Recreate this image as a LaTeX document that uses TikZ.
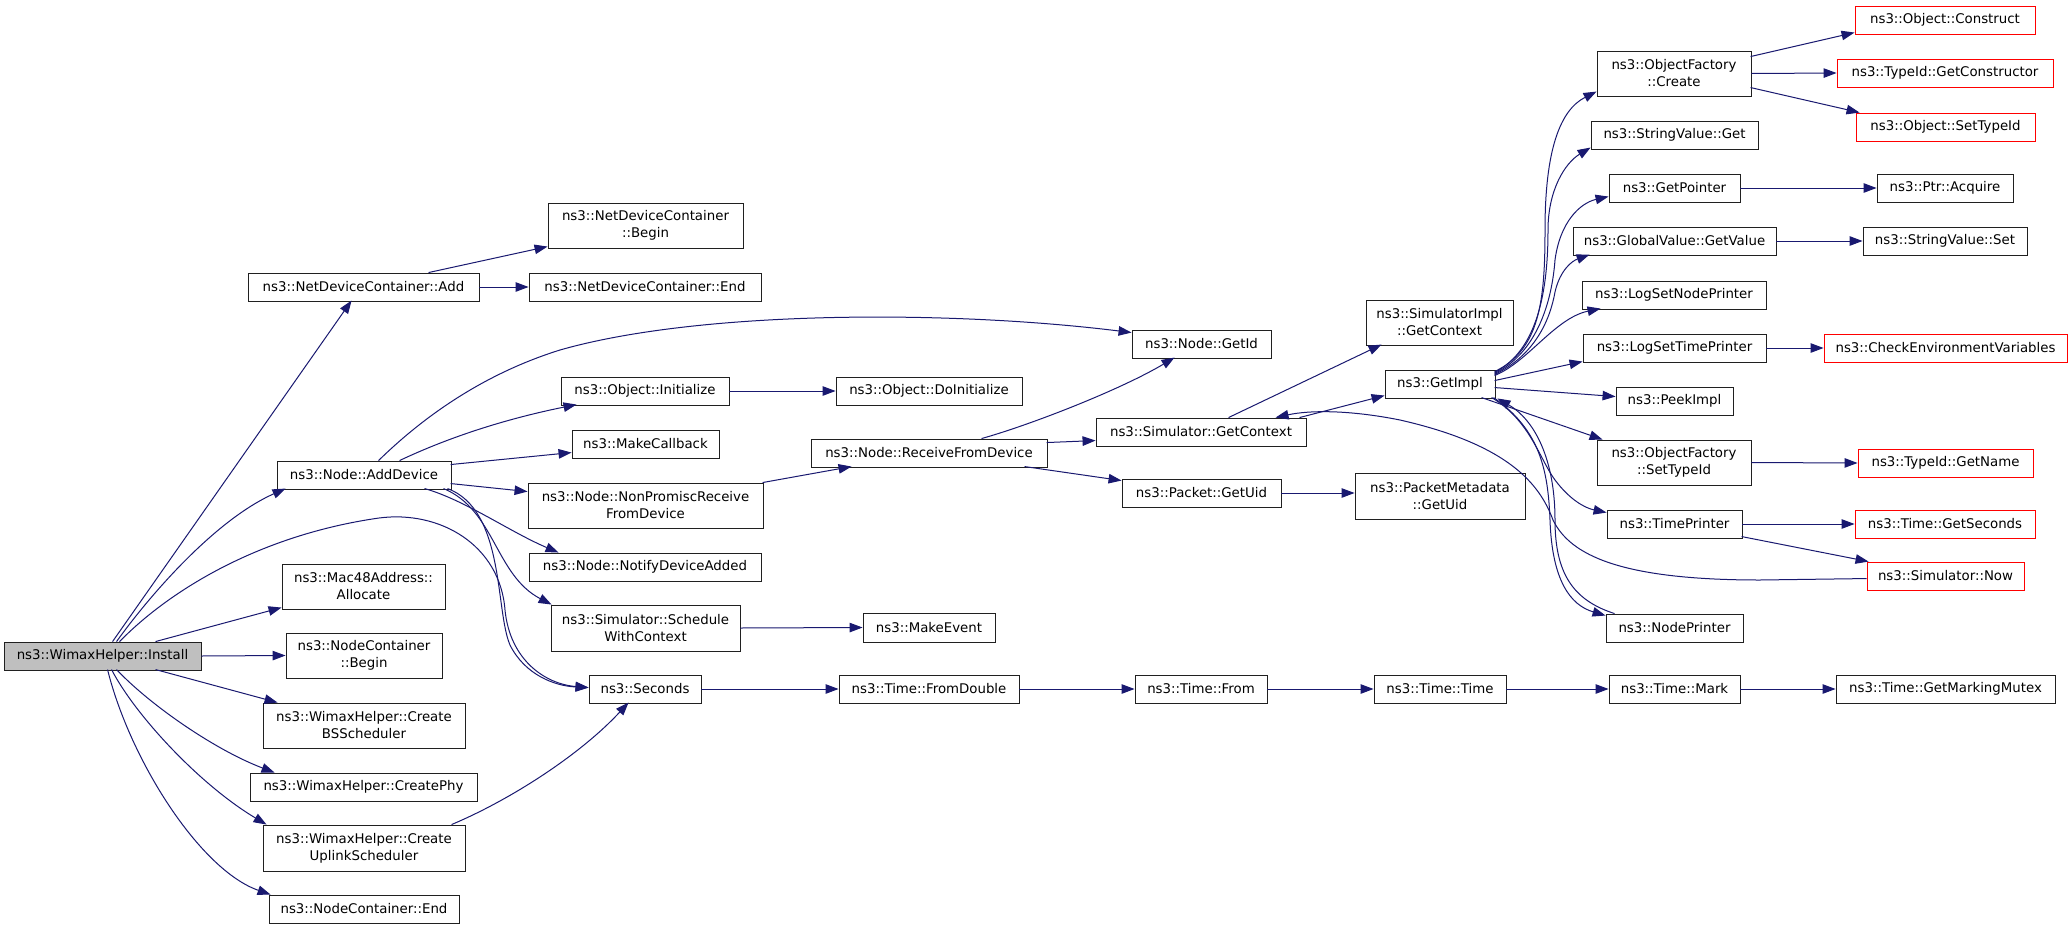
\documentclass[tikz,border=0pt]{standalone}
\usepackage{fontspec}
\setmainfont{DejaVu Sans}
\usetikzlibrary{arrows.meta,calc}
\definecolor{edgeblue}{HTML}{191970}
\definecolor{boxred}{HTML}{FF0000}
\definecolor{rootgrey}{HTML}{BFBFBF}
\definecolor{boxline}{HTML}{202020}
\tikzset{
 box/.style={draw=boxline, line width=0.9pt, fill=white, inner sep=0pt, align=center, font=\fontsize{13.33}{17}\selectfont},
 redbox/.style={draw=boxred},
 rootbox/.style={fill=rootgrey},
 e/.style={draw=edgeblue, line width=1pt, -{Triangle[length=13pt,width=9.5pt]}},
}
\newcommand\bx[7][]{\node[box,#1,minimum width={(#5-#3)*1pt},minimum height={(#6-#4)*1pt}] (#2) at ({(#3+#5)/2},{(#4+#6)/2}) {#7};}
\begin{document}
\begin{tikzpicture}[x=1pt,y=-1pt]
\useasboundingbox[fill=white] (0,0) rectangle (2072,929);
% column 1
\bx[rootbox]{install}{4}{642}{201}{670}{ns3::WimaxHelper::Install}
% column 2
\bx{ndcadd}{248}{273}{479}{301}{ns3::NetDeviceContainer::Add}
\bx{adddev}{277}{461}{451}{489}{ns3::Node::AddDevice}
\bx{mac48}{282}{564}{445}{609}{ns3::Mac48Address::\\Allocate}
\bx{ncbegin}{286}{633}{442}{678}{ns3::NodeContainer\\::Begin}
\bx{bssched}{263}{703}{465}{748}{ns3::WimaxHelper::Create\\BSScheduler}
\bx{phy}{250}{773}{477}{801}{ns3::WimaxHelper::CreatePhy}
\bx{uplink}{263}{825}{465}{871}{ns3::WimaxHelper::Create\\UplinkScheduler}
\bx{ncend}{269}{895}{459}{923}{ns3::NodeContainer::End}
% column 3
\bx{ndcbegin}{548}{203}{743}{248}{ns3::NetDeviceContainer\\::Begin}
\bx{ndcend}{529}{273}{761}{301}{ns3::NetDeviceContainer::End}
\bx{init}{561}{377}{729}{405}{ns3::Object::Initialize}
\bx{makecb}{572}{430}{719}{458}{ns3::MakeCallback}
\bx{nonprom}{528}{483}{763}{528}{ns3::Node::NonPromiscReceive\\FromDevice}
\bx{notify}{529}{553}{761}{581}{ns3::Node::NotifyDeviceAdded}
\bx{sched}{551}{605}{740}{651}{ns3::Simulator::Schedule\\WithContext}
\bx{seconds}{589}{675}{701}{703}{ns3::Seconds}
% column 4
\bx{doinit}{836}{377}{1022}{405}{ns3::Object::DoInitialize}
\bx{recv}{811}{439}{1047}{467}{ns3::Node::ReceiveFromDevice}
\bx{makeevent}{863}{613}{995}{642}{ns3::MakeEvent}
\bx{fromdouble}{839}{675}{1019}{703}{ns3::Time::FromDouble}
% column 5
\bx{getid}{1132}{330}{1271}{358}{ns3::Node::GetId}
\bx{simctx}{1096}{418}{1306}{446}{ns3::Simulator::GetContext}
\bx{pktuid}{1122}{479}{1281}{507}{ns3::Packet::GetUid}
\bx{timefrom}{1135}{675}{1267}{703}{ns3::Time::From}
% column 6
\bx{simimplctx}{1366}{300}{1513}{345}{ns3::SimulatorImpl\\::GetContext}
\bx{getimpl}{1385}{370}{1495}{398}{ns3::GetImpl}
\bx{pmuid}{1355}{473}{1525}{519}{ns3::PacketMetadata\\::GetUid}
\bx{timetime}{1374}{675}{1506}{703}{ns3::Time::Time}
% column 7
\bx{ofcreate}{1597}{51}{1751}{96}{ns3::ObjectFactory\\::Create}
\bx{svget}{1591}{121}{1758}{149}{ns3::StringValue::Get}
\bx{getptr}{1609}{174}{1740}{202}{ns3::GetPointer}
\bx{gvget}{1573}{227}{1776}{255}{ns3::GlobalValue::GetValue}
\bx{lognode}{1582}{281}{1766}{309}{ns3::LogSetNodePrinter}
\bx{logtime}{1583}{334}{1766}{362}{ns3::LogSetTimePrinter}
\bx{peek}{1616}{387}{1733}{415}{ns3::PeekImpl}
\bx{ofsettype}{1597}{440}{1751}{485}{ns3::ObjectFactory\\::SetTypeId}
\bx{timeprinter}{1607}{510}{1742}{538}{ns3::TimePrinter}
\bx{nodeprinter}{1606}{614}{1743}{642}{ns3::NodePrinter}
\bx{mark}{1609}{675}{1740}{703}{ns3::Time::Mark}
% column 8
\bx[redbox]{construct}{1855}{6}{2035}{34}{ns3::Object::Construct}
\bx[redbox]{getctor}{1837}{59}{2053}{87}{ns3::TypeId::GetConstructor}
\bx[redbox]{settypeid}{1856}{113}{2035}{141}{ns3::Object::SetTypeId}
\bx{acquire}{1877}{174}{2013}{202}{ns3::Ptr::Acquire}
\bx{svset}{1863}{227}{2027}{255}{ns3::StringValue::Set}
\bx[redbox]{checkenv}{1824}{334}{2067}{362}{ns3::CheckEnvironmentVariables}
\bx[redbox]{getname}{1858}{449}{2033}{477}{ns3::TypeId::GetName}
\bx[redbox]{getsec}{1855}{510}{2035}{538}{ns3::Time::GetSeconds}
\bx[redbox]{now}{1867}{562}{2024}{590}{ns3::Simulator::Now}
\bx{mutex}{1836}{675}{2055}{703}{ns3::Time::GetMarkingMutex}
% ---- edges from Install
\draw[e] ($(install.north west)+(109,0)$) -- ($(ndcadd.north west)+(104,28)$);
\draw[e] ($(install.north west)+(113,0)$) .. controls (150,595) and (215,520) .. ($(adddev.north west)+(9,28)$);
\draw[e] ($(install.north west)+(116,0)$) .. controls (170,590) and (260,535) .. (379,518) .. controls (440,510) and (500,545) .. (505,610) .. controls (510,660) and (545,684) .. ($(seconds.north west)+(0,13)$);
\draw[e] ($(install.north west)+(152,0)$) -- ($(mac48.north west)+(0,44)$);
\draw[e] (install.east) -- (ncbegin.west);
\draw[e] ($(install.north west)+(152,28)$) -- ($(bssched.north west)+(15,0)$);
\draw[e] ($(install.north west)+(113,28)$) .. controls (150,705) and (215,750) .. ($(phy.north west)+(25,0)$);
\draw[e] ($(install.north west)+(108,28)$) .. controls (135,715) and (200,785) .. ($(uplink.north west)+(4,0)$);
\draw[e] ($(install.north west)+(104,28)$) .. controls (130,760) and (200,870) .. ($(ncend.north west)+(2,0)$);
\draw[e] ($(uplink.north west)+(189,0)$) .. controls (510,800) and (580,755) .. ($(seconds.north west)+(40,28)$);
% ---- NetDeviceContainer::Add
\draw[e] ($(ndcadd.north west)+(181,0)$) -- ($(ndcbegin.north west)+(0,44)$);
\draw[e] (ndcadd.east) -- (ndcend.west);
% ---- Node::AddDevice
\draw[e] ($(adddev.north west)+(102,0)$) .. controls (420,420) and (480,375) .. (560,350) .. controls (700,310) and (950,310) .. ($(getid.north west)+(0,3)$);
\draw[e] ($(adddev.north west)+(123,0)$) .. controls (460,432) and (520,416) .. ($(init.north west)+(16,28)$);
\draw[e] ($(adddev.north west)+(174,4)$) -- ($(makecb.north west)+(0,23)$);
\draw[e] ($(adddev.north west)+(174,23)$) -- ($(nonprom.north west)+(0,9)$);
\draw[e] ($(adddev.north west)+(148,28)$) .. controls (465,500) and (510,532) .. ($(notify.north west)+(30,0)$);
\draw[e] ($(adddev.north west)+(167,28)$) .. controls (495,510) and (495,575) .. ($(sched.north west)+(1,0)$);
\draw[e] ($(adddev.north west)+(171,28)$) .. controls (505,510) and (495,610) .. (510,645) .. controls (525,675) and (555,686) .. ($(seconds.north west)+(0,13)$);
% ---- column 3
\draw[e] (init.east) -- (doinit.west);
\draw[e] ($(nonprom.north west)+(235,0)$) -- ($(recv.north west)+(41,28)$);
\draw[e] (sched.east) -- (makeevent.west);
\draw[e] (seconds.east) -- (fromdouble.west);
\draw[e] (fromdouble.east) -- (timefrom.west);
\draw[e] (timefrom.east) -- (timetime.west);
\draw[e] (timetime.east) -- (mark.west);
\draw[e] (mark.east) -- (mutex.west);
% ---- ReceiveFromDevice
\draw[e] ($(recv.north west)+(171,0)$) .. controls (1030,425) and (1120,390) .. ($(getid.north west)+(43,28)$);
\draw[e] ($(recv.north west)+(236,4)$) -- ($(simctx.north west)+(0,23)$);
\draw[e] ($(recv.north west)+(214,28)$) -- ($(pktuid.north west)+(0,2)$);
% ---- Simulator::GetContext, Packet::GetUid
\draw[e] ($(simctx.north west)+(133,0)$) -- ($(simimplctx.north west)+(16,45)$);
\draw[e] ($(simctx.north west)+(204,0)$) -- ($(getimpl.north west)+(0,26)$);
\draw[e] (pktuid.east) -- (pktuid.east -| pmuid.west);
% ---- GetImpl
\draw[e] ($(getimpl.north west)+(110,2)$) .. controls (1540,350) and (1545,300) .. (1545,230) .. controls (1545,150) and (1560,110) .. ($(ofcreate.north west)+(0,41)$);
\draw[e] ($(getimpl.north west)+(110,3)$) .. controls (1538,350) and (1548,290) .. (1548,230) .. controls (1548,190) and (1565,163) .. ($(svget.north west)+(0,27)$);
\draw[e] ($(getimpl.north west)+(110,4)$) .. controls (1538,352) and (1552,300) .. (1555,260) .. controls (1560,222) and (1580,203) .. ($(getptr.north west)+(0,23)$);
\draw[e] ($(getimpl.north west)+(110,5)$) .. controls (1535,355) and (1550,320) .. (1555,292) .. controls (1560,270) and (1572,261) .. ($(gvget.north west)+(17,28)$);
\draw[e] ($(getimpl.north west)+(110,6)$) .. controls (1528,362) and (1555,318) .. ($(lognode.north west)+(19,28)$);
\draw[e] ($(getimpl.north west)+(110,11)$) -- ($(logtime.north west)+(0,28)$);
\draw[e] ($(getimpl.north west)+(110,18)$) -- ($(peek.north west)+(0,10)$);
\draw[e] ($(getimpl.north west)+(97,28)$) -- ($(ofsettype.north west)+(6,0)$);
\draw[e] ($(getimpl.north west)+(107,28)$) .. controls (1530,420) and (1540,460) .. (1555,480) .. controls (1570,500) and (1585,508) .. ($(timeprinter.north west)+(0,3)$);
\draw[e] ($(getimpl.north west)+(109,28)$) .. controls (1540,430) and (1548,470) .. (1550,520) .. controls (1552,580) and (1570,605) .. ($(nodeprinter.north west)+(0,2)$);
\draw[e] ($(nodeprinter.north west)+(9,0)$) .. controls (1572,600) and (1555,572) .. (1555,520) .. controls (1555,460) and (1535,420) .. ($(getimpl.south east)+(2,0)$);
\draw[e] ($(now.north west)+(0,17)$) -- (1760,580) .. controls (1620,580) and (1570,555) .. (1553,520) .. controls (1540,485) and (1510,445) .. (1400,420) .. controls (1350,410) and (1310,410) .. ($(simctx.north west)+(180,0)$);
% ---- column 7 to 8
\draw[e] ($(ofcreate.north west)+(154,6)$) -- ($(construct.north west)+(0,27)$);
\draw[e] (ofcreate.east) -- (getctor.west);
\draw[e] ($(ofcreate.north west)+(154,37)$) -- ($(settypeid.north west)+(4,0)$);
\draw[e] (getptr.east) -- (acquire.west);
\draw[e] (gvget.east) -- (svset.west);
\draw[e] (logtime.east) -- (checkenv.west);
\draw[e] (ofsettype.east) -- (getname.west);
\draw[e] (timeprinter.east) -- (getsec.west);
\draw[e] ($(timeprinter.north west)+(135,27)$) -- ($(now.north west)+(2,0)$);
\end{tikzpicture}
\end{document}
